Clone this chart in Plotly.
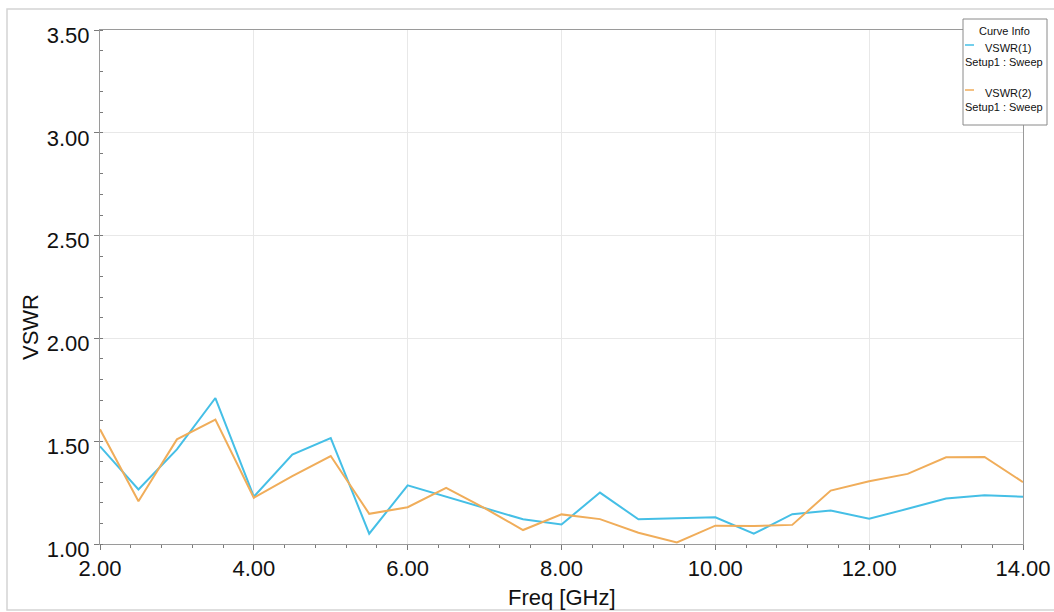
import plotly.graph_objects as go

freq = [2.0, 2.5, 3.0, 3.5, 4.0, 4.5, 5.0, 5.5, 6.0, 6.5, 7.0, 7.5, 8.0,
        8.5, 9.0, 9.5, 10.0, 10.5, 11.0, 11.5, 12.0, 12.5, 13.0, 13.5, 14.0]
vswr1 = [1.475, 1.265, 1.46, 1.71, 1.23, 1.435, 1.515, 1.05, 1.285, 1.23, 1.175, 1.12, 1.095,
         1.25, 1.12, 1.125, 1.13, 1.05, 1.145, 1.163, 1.123, 1.171, 1.221, 1.237, 1.23]
vswr2 = [1.558, 1.208, 1.509, 1.605, 1.225, 1.33, 1.428, 1.147, 1.179, 1.273, 1.175, 1.068, 1.144,
         1.121, 1.055, 1.008, 1.089, 1.087, 1.093, 1.26, 1.305, 1.341, 1.422, 1.423, 1.301]
series_names = ["VSWR(1)", "VSWR(2)"]
setup_label = "Setup1 : Sweep"
legend_title = "Curve Info"
x_title = "Freq [GHz]"
y_title = "VSWR"
colors = ["#45bfe6", "#f0ad5a"]

W, H = 1054, 612
ML, MR, MT, MB = 100, 31, 30, 68
PW, PH = W - ML - MR, H - MT - MB


def px(xp):
    return (xp - ML) / PW


def py(yp):
    return (H - MB - yp) / PH


fig = go.Figure()
for ys, nm, c in zip([vswr1, vswr2], series_names, colors):
    fig.add_trace(go.Scatter(x=freq, y=ys, mode="lines", name=nm,
                             line=dict(color=c, width=2), showlegend=False))

tick_font = dict(family="Liberation Sans, Arial", size=22, color="#111")
title_font = dict(family="Liberation Sans, Arial", size=22, color="#111")
axis_common = dict(
    showline=True, linecolor="#9a9a9a", linewidth=1, mirror=True,
    showgrid=True, gridcolor="#e8e8e8", gridwidth=1,
    zeroline=False, ticks="outside", ticklen=5, tickcolor="#7a7a7a",
    tickfont=tick_font, tickformat=".2f", automargin=False,
)
fig.update_xaxes(range=[2, 14], dtick=2, tick0=2,
                 minor=dict(dtick=0.4, ticks="outside", ticklen=3, tickcolor="#7a7a7a", showgrid=False),
                 **axis_common)
fig.update_yaxes(range=[1, 3.5], dtick=0.5, tick0=1, ticklabelshift=5,
                 minor=dict(dtick=0.1, ticks="inside", ticklen=3, tickcolor="#7a7a7a", showgrid=False),
                 **axis_common)

# axis titles
fig.add_annotation(text=x_title, xref="paper", yref="paper", x=px(562), y=py(597),
                   showarrow=False, font=title_font, xanchor="center", yanchor="middle")
fig.add_annotation(text=y_title, xref="paper", yref="paper", x=px(30), y=py(327),
                   showarrow=False, font=title_font, xanchor="center", yanchor="middle",
                   textangle=-90)

# outer frame
fig.add_shape(type="rect", xref="paper", yref="paper",
              x0=px(7), x1=px(1060), y0=py(610), y1=py(9),
              line=dict(color="#d4d4d4", width=1.5), layer="below")

# custom legend box ("Curve Info")
fig.add_shape(type="rect", xref="paper", yref="paper",
              x0=px(963), x1=px(1047), y0=py(125), y1=py(19),
              line=dict(color="#8a8a8a", width=1), fillcolor="white", layer="above")
lf = dict(family="Liberation Sans, Arial", size=11, color="#111")
fig.add_annotation(text=legend_title, xref="paper", yref="paper", x=px(1004), y=py(31),
                   showarrow=False, font=lf, xanchor="center", yanchor="middle")
for i, (nm, c) in enumerate(zip(series_names, colors)):
    y0 = 45 + i * 45
    fig.add_shape(type="line", xref="paper", yref="paper",
                  x0=px(965), x1=px(974), y0=py(y0), y1=py(y0),
                  line=dict(color=c, width=1.5), layer="above")
    fig.add_annotation(text=nm, xref="paper", yref="paper", x=px(1008), y=py(y0 + 3),
                       showarrow=False, font=lf, xanchor="center", yanchor="middle")
    fig.add_annotation(text=setup_label, xref="paper", yref="paper", x=px(1004), y=py(y0 + 17),
                       showarrow=False, font=lf, xanchor="center", yanchor="middle")

fig.update_layout(
    width=W, height=H,
    margin=dict(l=ML, r=MR, t=MT, b=MB, autoexpand=False),
    paper_bgcolor="white", plot_bgcolor="white",
    font=dict(family="Liberation Sans, Arial", color="#111"),
    showlegend=False,
)

fig.write_html("out.html", config={"displayModeBar": False},
               post_script="document.body.style.margin='0';document.body.style.overflow='hidden';")
